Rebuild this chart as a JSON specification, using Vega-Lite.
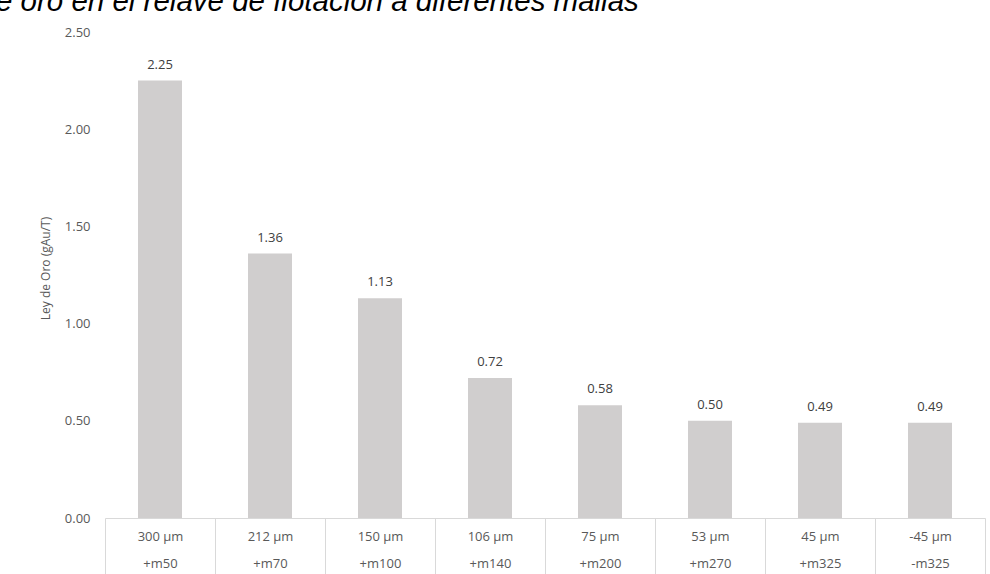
{
  "$schema": "https://vega.github.io/schema/vega-lite/v6.json",
  "autosize": "none",
  "width": 880,
  "height": 486,
  "padding": {"left": 105, "top": 32, "right": 5, "bottom": 56},
  "background": "white",
  "config": {"view": {"stroke": null}, "font": "Open Sans"},
  "title": {
    "text": "e oro en el relave de flotación a diferentes mallas",
    "anchor": "start",
    "frame": "group",
    "dx": -109,
    "dy": 34,
    "font": "Liberation Sans",
    "fontStyle": "italic",
    "fontWeight": "normal",
    "fontSize": 29.5,
    "color": "#000000",
    "baseline": "alphabetic",
    "offset": 20
  },
  "data": {
    "values": [
      {"malla": "300 µm|+m50", "ley": 2.25},
      {"malla": "212 µm|+m70", "ley": 1.36},
      {"malla": "150 µm|+m100", "ley": 1.13},
      {"malla": "106 µm|+m140", "ley": 0.72},
      {"malla": "75 µm|+m200", "ley": 0.58},
      {"malla": "53 µm|+m270", "ley": 0.50},
      {"malla": "45 µm|+m325", "ley": 0.49},
      {"malla": "-45 µm|-m325", "ley": 0.49}
    ]
  },
  "encoding": {
    "x": {
      "field": "malla",
      "type": "nominal",
      "sort": null,
      "scale": {"paddingInner": 0, "paddingOuter": 0},
      "axis": {
        "title": null,
        "labelAngle": 0,
        "labelExpr": "split(datum.label, '|')",
        "labelLineHeight": 27,
        "labelFont": "Open Sans",
        "labelFontSize": 13,
        "labelColor": "#595959",
        "labelBaseline": "top",
        "labelPadding": -48,
        "tickBand": "extent",
        "tickSize": 60,
        "tickColor": "#d9d9d9",
        "domainColor": "#d9d9d9",
        "grid": false
      }
    },
    "y": {
      "field": "ley",
      "type": "quantitative",
      "scale": {"domain": [0, 2.5]},
      "axis": {
        "title": "Ley de Oro (gAu/T)",
        "titleFont": "Open Sans",
        "titleFontSize": 12,
        "titleFontWeight": "normal",
        "titleColor": "#595959",
        "titleAngle": -90,
        "titleX": -60,
        "titleY": 236,
        "titleAlign": "center",
        "titleBaseline": "middle",
        "values": [0, 0.5, 1, 1.5, 2, 2.5],
        "format": ".2f",
        "labelFont": "Open Sans",
        "labelFontSize": 13,
        "labelColor": "#595959",
        "labelPadding": 15,
        "ticks": false,
        "domain": false,
        "grid": false
      }
    }
  },
  "layer": [
    {
      "mark": {"type": "bar", "color": "#d0cece", "width": {"band": 0.4}}
    },
    {
      "mark": {"type": "text", "dy": -16, "font": "Open Sans", "fontSize": 13, "color": "#404040"},
      "encoding": {
        "text": {"field": "ley", "type": "quantitative", "format": ".2f"}
      }
    }
  ]
}
